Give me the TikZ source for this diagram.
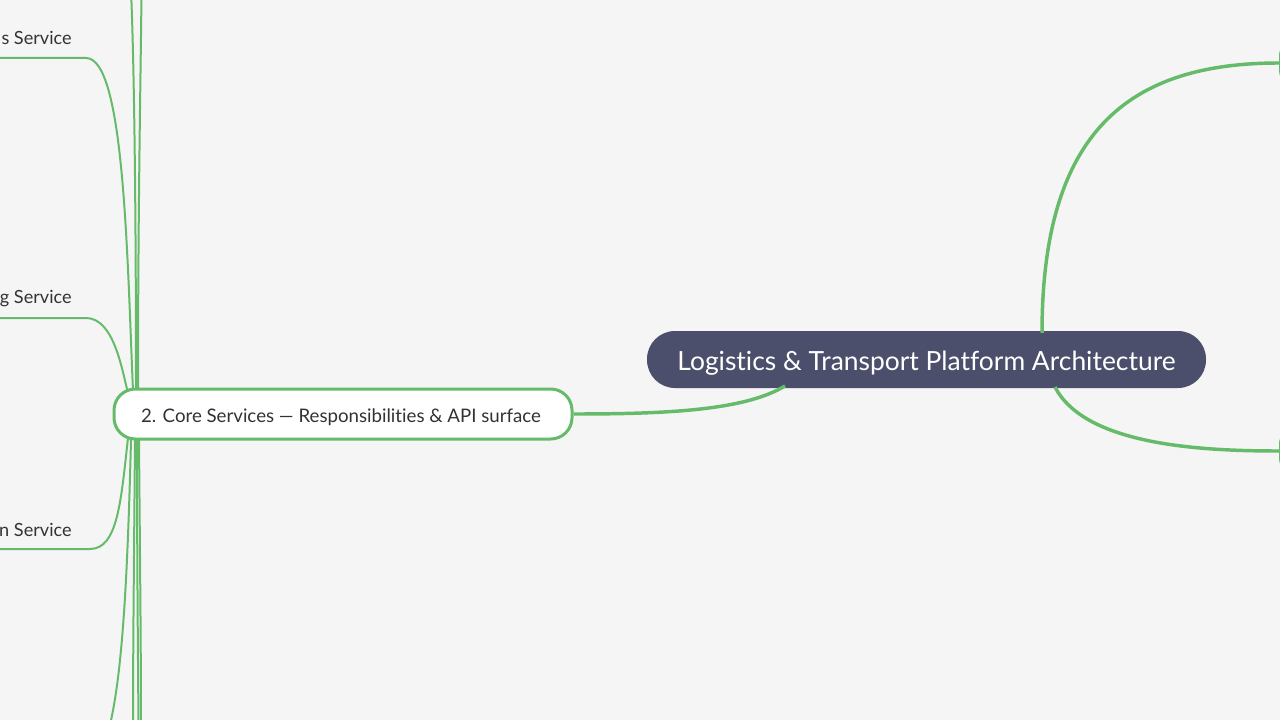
\documentclass[tikz,border=0pt]{standalone}
\usepackage{fontspec}
\setmainfont{Lato}[Ligatures={NoCommon,NoRare}]
\definecolor{bg}{HTML}{F5F5F5}
\definecolor{gr}{HTML}{66BB6A}
\definecolor{navy}{HTML}{4B4F6B}
\definecolor{txt}{HTML}{333333}
\begin{document}
\begin{tikzpicture}[x=0.75pt,y=-0.75pt,
  thickline/.style={draw=gr,line width=2.6pt},
  thinline/.style={draw=gr,line width=1.5pt},
  leaflabel/.style={anchor=east,inner sep=0pt,text=txt,font=\fontsize{13.6pt}{16pt}\selectfont},
  rootbox/.style={fill=navy,rounded corners=21pt,minimum width=419.25pt,minimum height=42.75pt,inner sep=0pt},
  roottext/.style={inner sep=0pt,text=white,font=\fontsize{19.8pt}{23pt}\selectfont},
  mainbox/.style={draw=gr,line width=2.25pt,fill=white,rounded corners=16pt,minimum width=343.5pt,minimum height=37.5pt,inner sep=0pt},
  maintext/.style={inner sep=0pt,text=txt,font=\fontsize{14pt}{16pt}\selectfont},
  edgebox/.style={draw=gr,line width=2.25pt,fill=white,rounded corners=12pt,minimum width=165pt,minimum height=34.5pt,inner sep=0pt}]
\useasboundingbox (0,0) rectangle (1280,720);
\clip (0,0) rectangle (1280,720);
\fill[bg] (0,0) rectangle (1280,720);
% coordinates
\coordinate (up1) at (131,-10);
\coordinate (up2) at (141.5,-10);
\coordinate (dn1) at (133,730);
\coordinate (dn2) at (138.5,730);
\coordinate (dn3) at (141,730);
\coordinate (dn4) at (106,740);
\coordinate (s1) at (-5,58);
\coordinate (s1b) at (86,58);
\coordinate (s2) at (-5,318);
\coordinate (s2b) at (86,318);
\coordinate (s3) at (-5,549);
\coordinate (s3b) at (90,549);
\coordinate (ca) at (133,391);
\coordinate (cb) at (128,393);
\coordinate (cc) at (136,390);
\coordinate (cd) at (138,390);
\coordinate (ce) at (128,438);
\coordinate (cf) at (131,440);
\coordinate (cg) at (135,440);
\coordinate (ch) at (137,440);
\coordinate (ci) at (139,440);
% thin branches
\draw[thinline] (s1) -- (s1b) .. controls (124,58) and (127,250) .. (ca);
\draw[thinline] (s2) -- (s2b) .. controls (114,318) and (122,370) .. (cb);
\draw[thinline] (s3) -- (s3b) .. controls (118,549) and (121,500) .. (ce);
\draw[thinline] (cf) .. controls (127,600) and (121,690) .. (dn4);
\draw[thinline] (cc) .. controls (136,200) and (134,60) .. (up1);
\draw[thinline] (cd) .. controls (138,200) and (141,60) .. (up2);
\draw[thinline] (cg) .. controls (134,560) and (133,650) .. (dn1);
\draw[thinline] (ch) .. controls (137,560) and (138,650) .. (dn2);
\draw[thinline] (ci) .. controls (140,560) and (141,650) .. (dn3);
% labels
\node[leaflabel] (l1) at (72,38) {s Service};
\node[leaflabel] (l2) at (72,298.5) {g Service};
\node[leaflabel] (l3) at (72,530) {n Service};
% nodes
\node[mainbox] (core) at (343,414) {};
\node[maintext] (coretxt) at (341,417.5) {2. Core Services — Responsibilities \& API surface};
\node[rootbox] (root) at (926.5,359.5) {};
\node[roottext] (roottxt) at (926.5,363.5) {Logistics \& Transport Platform Architecture};
\node[edgebox,anchor=west] (r1) at (1279,63) {};
\node[edgebox,anchor=west] (r2) at (1279,451) {};
\coordinate (rb) at (785,386);
\coordinate (rt) at (1042,333);
\coordinate (rd) at (1055,387);
% thick connectors
\draw[thickline] (rb) .. controls (745,410) and (670,414) .. (core.east);
\draw[thickline] (rt) .. controls (1042,130) and (1130,63) .. (r1.west);
\draw[thickline] (rd) .. controls (1085,445) and (1200,451) .. (r2.west);
\end{tikzpicture}
\end{document}
